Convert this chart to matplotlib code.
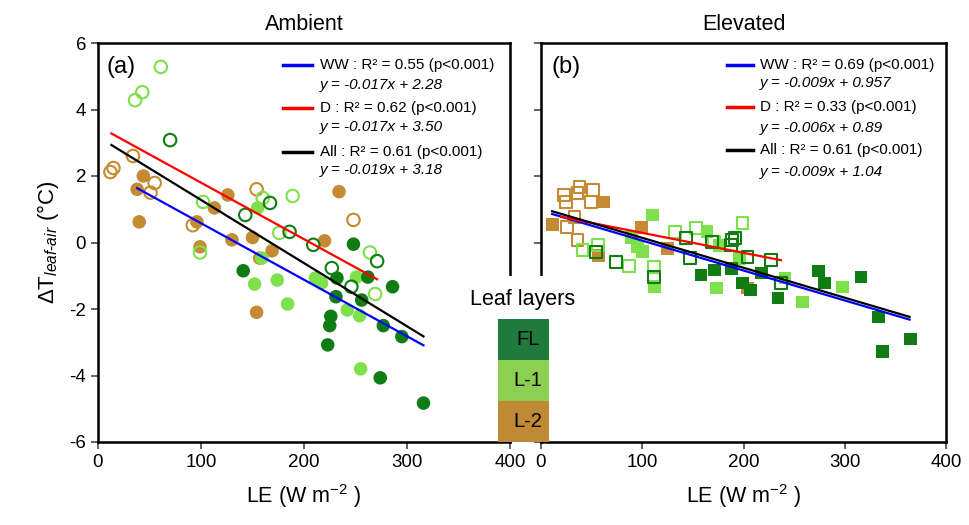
import matplotlib
matplotlib.use("Agg")
from matplotlib import pyplot as plt
from matplotlib.patches import Rectangle
import numpy as np

plt.rcParams['font.family'] = ['Liberation Sans', 'DejaVu Sans']
plt.rcParams['mathtext.fontset'] = 'custom'
plt.rcParams['mathtext.rm'] = 'Liberation Sans'
plt.rcParams['mathtext.it'] = 'Liberation Sans:italic'
plt.rcParams['axes.unicode_minus'] = False

# Ambient CO2: LE (W m-2) vs dT leaf-air (degC); filled = WW, open = D
amb_fl_ww_le = [141, 248, 232, 231, 256, 262, 286, 226, 225, 223, 277, 295, 274, 316]
amb_fl_ww_dt = [-0.85, -0.05, -1.07, -1.63, -1.73, -1.04, -1.33, -2.22, -2.5, -3.08, -2.5, -2.83, -4.07, -4.83]
amb_fl_d_le = [70, 167, 143, 186, 209, 271, 227, 246]
amb_fl_d_dt = [3.08, 1.19, 0.83, 0.32, -0.07, -0.56, -0.77, -1.33]
amb_l1_ww_le = [155, 159, 152, 174, 211, 217, 251, 242, 254, 255, 184]
amb_l1_ww_dt = [1.04, -0.47, -1.25, -1.13, -1.07, -1.22, -1.04, -2.03, -2.2, -3.8, -1.85]
amb_l1_d_le = [61, 36, 43, 189, 102, 160, 176, 99, 264, 269]
amb_l1_d_dt = [5.28, 4.28, 4.52, 1.4, 1.22, 1.34, 0.29, -0.3, -0.3, -1.55]
amb_l2_ww_le = [44, 38, 40, 96, 113, 126, 130, 150, 169, 157, 220, 234, 154, 99]
amb_l2_ww_dt = [2.0, 1.6, 0.62, 0.62, 1.04, 1.43, 0.08, 0.15, -0.25, -0.47, 0.05, 1.53, -2.1, -0.13]
amb_l2_d_le = [12, 15, 34, 55, 51, 92, 154, 248]
amb_l2_d_dt = [2.12, 2.24, 2.6, 1.79, 1.5, 0.52, 1.6, 0.68]

# Elevated CO2
elv_fl_ww_le = [158, 171, 188, 199, 207, 218, 234, 274, 280, 316, 333, 365, 337]
elv_fl_ww_dt = [-0.98, -0.83, -0.78, -1.22, -1.43, -0.92, -1.67, -0.86, -1.22, -1.04, -2.24, -2.9, -3.29]
elv_fl_d_le = [74, 54, 147, 143, 189, 112, 169, 192, 188, 204, 227, 237]
elv_fl_d_dt = [-0.58, -0.29, -0.47, 0.14, 0.08, -1.03, 0.02, 0.14, -0.08, -0.44, -0.53, -1.22]
elv_l1_ww_le = [110, 89, 95, 100, 112, 164, 173, 176, 196, 241, 258, 298]
elv_l1_ww_dt = [0.83, 0.14, -0.13, -0.28, -1.33, 0.32, -1.37, -0.08, -0.47, -1.07, -1.79, -1.34]
elv_l1_d_le = [41, 56, 87, 112, 132, 153, 171, 199]
elv_l1_d_dt = [-0.23, -0.08, -0.71, -0.73, 0.32, 0.44, 0.02, 0.59]
elv_l2_ww_le = [62, 11, 99, 57, 125, 204]
elv_l2_ww_dt = [1.22, 0.53, 0.44, -0.38, -0.17, -1.37]
elv_l2_d_le = [23, 25, 36, 38, 51, 49, 33, 26, 36]
elv_l2_d_dt = [1.43, 1.22, 1.49, 1.67, 1.58, 1.22, 0.77, 0.47, 0.08]

# regression fits: slope, intercept, x extent  (WW, D, All)
amb_slopes = [-0.017, -0.017, -0.019]
amb_intercepts = [2.28, 3.50, 3.18]
amb_xranges = [(38, 316), (13, 271), (13, 316)]
amb_labels = ["WW : R² = 0.55 (p<0.001)", "D : R² = 0.62 (p<0.001)", "All : R² = 0.61 (p<0.001)"]
amb_eqs = ["y = -0.017x + 2.28", "y = -0.017x + 3.50", "y = -0.019x + 3.18"]

elv_slopes = [-0.009, -0.006, -0.009]
elv_intercepts = [0.957, 0.89, 1.04]
elv_xranges = [(11, 364), (20, 237), (11, 364)]
elv_labels = ["WW : R² = 0.69 (p<0.001)", "D : R² = 0.33 (p<0.001)", "All : R² = 0.61 (p<0.001)"]
elv_eqs = ["y = -0.009x + 0.957", "y = -0.006x + 0.89", "y = -0.009x + 1.04"]

layer_names = ["FL", "L-1", "L-2"]
pt_colors = {"FL": "#0f7d14", "L-1": "#7ee04a", "L-2": "#c48b32"}
bar_colors = ["#1e7b3c", "#8bd051", "#c08934"]
fit_colors = ["#0000ff", "#ff0000", "#000000"]


def draw_points(ax, groups, marker, size):
    # brown first, dark green last so it sits on top
    for layer, ww_x, ww_y, d_x, d_y in groups:
        c = pt_colors[layer]
        ax.scatter(ww_x, ww_y, s=size, marker=marker, color=c, edgecolors='none', zorder=3)
        ax.scatter(d_x, d_y, s=size * 0.85, marker=marker, facecolors='none', edgecolors=c, linewidths=1.5, zorder=3)


def draw_fits(ax, slopes, intercepts, xranges, labels, eqs, lx0, lx1, tx, ys, eq_ys):
    for k in range(3):
        x = np.array(xranges[k], dtype=float)
        ax.plot(x, slopes[k] * x + intercepts[k], color=fit_colors[k], lw=1.6, zorder=4)
        ax.plot([lx0, lx1], [ys[k], ys[k]], color=fit_colors[k], lw=2.5, transform=ax.transAxes)
        ax.text(tx, ys[k], labels[k], transform=ax.transAxes, fontsize=11, va='center')
        ax.text(tx, eq_ys[k], eqs[k], transform=ax.transAxes, fontsize=11, va='center', style='italic')


def style_axes(ax, show_ylabels):
    ax.set_xlim(0, 400)
    ax.set_ylim(-6, 6)
    ax.set_xticks([0, 100, 200, 300, 400])
    ax.set_yticks([-6, -4, -2, 0, 2, 4, 6])
    for sp in ax.spines.values():
        sp.set_linewidth(1.8)
    ax.tick_params(direction='out', length=5, width=1.3, color='#555555', labelsize=13.5, labelleft=show_ylabels)
    ax.set_xlabel("LE (W m$^{-2}$ )", fontsize=15.5, labelpad=8)


fig = plt.figure(figsize=(9.7, 5.25), dpi=100)
ax1 = fig.add_axes([98 / 970, 83 / 525, 412 / 970, 399 / 525])
ax2 = fig.add_axes([541 / 970, 83 / 525, 405 / 970, 399 / 525])

draw_points(ax1, [("L-2", amb_l2_ww_le, amb_l2_ww_dt, amb_l2_d_le, amb_l2_d_dt),
                  ("L-1", amb_l1_ww_le, amb_l1_ww_dt, amb_l1_d_le, amb_l1_d_dt),
                  ("FL", amb_fl_ww_le, amb_fl_ww_dt, amb_fl_d_le, amb_fl_d_dt)], 'o', 95)
draw_points(ax2, [("L-2", elv_l2_ww_le, elv_l2_ww_dt, elv_l2_d_le, elv_l2_d_dt),
                  ("L-1", elv_l1_ww_le, elv_l1_ww_dt, elv_l1_d_le, elv_l1_d_dt),
                  ("FL", elv_fl_ww_le, elv_fl_ww_dt, elv_fl_d_le, elv_fl_d_dt)], 's', 85)

draw_fits(ax1, amb_slopes, amb_intercepts, amb_xranges, amb_labels, amb_eqs,
          0.449, 0.519, 0.539, [0.945, 0.837, 0.727], [0.895, 0.789, 0.682])
draw_fits(ax2, elv_slopes, elv_intercepts, elv_xranges, elv_labels, elv_eqs,
          0.459, 0.523, 0.541, [0.945, 0.840, 0.732], [0.900, 0.787, 0.677])

style_axes(ax1, True)
style_axes(ax2, False)
ax1.set_ylabel(r"ΔT$_{leaf\text{-}air}$ (°C)", fontsize=16, labelpad=6)
ax1.set_title("Ambient", fontsize=15.5, pad=9)
ax2.set_title("Elevated", fontsize=15.5, pad=9)
ax1.text(0.02, 0.94, "(a)", transform=ax1.transAxes, fontsize=17, va='center')
ax2.text(0.025, 0.94, "(b)", transform=ax2.transAxes, fontsize=17, va='center')

# blank out the gap between the panels for the layer key
fig.add_artist(Rectangle((468 / 970, 85 / 525), 114 / 970, 164 / 525, transform=fig.transFigure,
                         facecolor='white', edgecolor='none', zorder=2))
fig.text(523 / 970, 225 / 525, "Leaf layers", fontsize=15.5, ha='center', va='center', zorder=3)

cax = fig.add_axes([498 / 970, 83 / 525, 51 / 970, 123 / 525], zorder=4)
for i, (name, col) in enumerate(zip(layer_names, bar_colors)):
    cax.bar(0.5, 1, width=1, bottom=2 - i, color=col)
    cax.text(0.58, 2.5 - i, name, ha='center', va='center', fontsize=14.5)
cax.set_xlim(0, 1)
cax.set_ylim(0, 3)
cax.axis('off')

fig.savefig("out.png", dpi=100)
